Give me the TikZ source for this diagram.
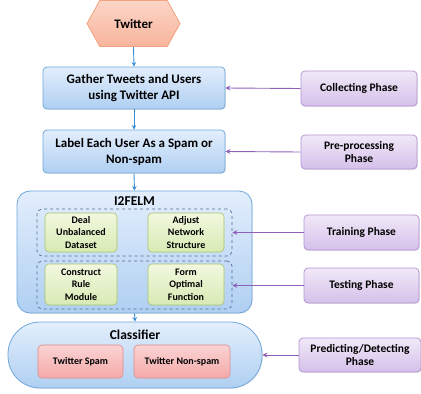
\documentclass[tikz,border=0pt]{standalone}
\usepackage{fontspec}
\setmainfont{Carlito}
\usetikzlibrary{shapes.symbols,shadows,arrows.meta}
\definecolor{bluebd}{HTML}{6FA8DC}
\definecolor{blueA}{HTML}{E3EEFC}
\definecolor{blueB}{HTML}{AFCFF2}
\definecolor{purpbd}{HTML}{B396D2}
\definecolor{purpA}{HTML}{F1E9F8}
\definecolor{purpB}{HTML}{D5C0EA}
\definecolor{purpar}{HTML}{9060B8}
\definecolor{bluear}{HTML}{3A8FD4}
\definecolor{hexbd}{HTML}{F2A27E}
\definecolor{hexA}{HTML}{FCD5C6}
\definecolor{hexB}{HTML}{F8B49C}
\definecolor{grnbd}{HTML}{A9C46C}
\definecolor{grnA}{HTML}{F1F8DF}
\definecolor{grnB}{HTML}{D8EAB4}
\definecolor{redbd}{HTML}{DE8C8C}
\definecolor{redA}{HTML}{FBD3D3}
\definecolor{redB}{HTML}{F4A9A9}
\definecolor{dashbd}{HTML}{4F6E93}
\begin{document}
\begin{tikzpicture}[x=1pt,y=-1pt,
  every node/.style={inner sep=1pt, align=center, font=\bfseries},
  shad/.style={drop shadow={opacity=0.2,shadow xshift=0.8pt,shadow yshift=-0.8pt}},
  bluebox/.style={draw=bluebd, line width=0.8pt, rounded corners=4pt, top color=blueA, bottom color=blueB, shad, font=\bfseries\fontsize{13}{16}\selectfont},
  phase/.style={draw=purpbd, line width=0.8pt, rounded corners=4pt, top color=purpA, bottom color=purpB, shad, minimum height=35pt, font=\bfseries\fontsize{11.5}{13.8}\selectfont},
  grnbox/.style={draw=grnbd, line width=0.6pt, rounded corners=4pt, top color=grnA, bottom color=grnB, font=\bfseries\fontsize{10}{12.4}\selectfont},
  redbox/.style={draw=redbd, line width=0.6pt, rounded corners=4pt, top color=redA, bottom color=redB, minimum height=33pt, font=\bfseries\fontsize{10}{12}\selectfont},
  ttl/.style={font=\bfseries\fontsize{13.5}{16}\selectfont},
  dashbox/.style={draw=dashbd, dashed, line width=0.7pt, rounded corners=5pt},
  barrow/.style={draw=bluear, line width=0.9pt, -{Stealth[length=4.5pt,width=4.5pt]}},
  parrow/.style={draw=purpar, line width=0.9pt, -{Stealth[length=5pt,width=5pt]}}
]
\useasboundingbox (0,0) rectangle (421,394);
% top
\node[signal, signal to=east and west, signal pointer angle=122, draw=hexbd, line width=0.8pt, top color=hexA, bottom color=hexB, minimum width=93pt, minimum height=46pt, inner sep=0pt, font=\bfseries\fontsize{13}{15}\selectfont] (tw) at (133.5,23.5) {Twitter};
\node[bluebox, minimum width=182pt, minimum height=42pt] (gather) at (134,88) {Gather Tweets and Users\\using Twitter API};
\node[phase, minimum width=116pt] (collect) at (359,88.5) {Collecting Phase};
\node[bluebox, minimum width=182pt, minimum height=43pt] (label) at (134,151.5) {Label Each User As a Spam or\\Non-spam};
\node[phase, minimum width=116pt, minimum height=34pt] (pre) at (359,152) {Pre-processing\\Phase};
% I2FELM
\node[draw=bluebd, line width=0.8pt, rounded corners=13pt, top color=blueA, bottom color=blueB, shad, minimum width=235pt, minimum height=122pt] (elm) at (134.5,252) {};
\node[ttl] (elmt) at (134.5,201.5) {I2FELM};
\node[dashbox, minimum width=195pt, minimum height=47pt] (d1) at (134.5,232.5) {};
\node[grnbox, minimum width=72pt, minimum height=39pt] (deal) at (81,232.5) {Deal\\Unbalanced\\Dataset};
\node[grnbox, minimum width=76pt, minimum height=39pt] (adjust) at (186,232.5) {Adjust\\Network\\Structure};
\node[phase, minimum width=115pt] (train) at (361.5,232.5) {Training Phase};
\node[dashbox, minimum width=195pt, minimum height=48pt] (d2) at (134.5,285) {};
\node[grnbox, minimum width=72pt, minimum height=41pt] (constr) at (81,284.5) {Construct\\Rule\\Module};
\node[grnbox, minimum width=76pt, minimum height=41pt] (form) at (186,284.5) {Form\\Optimal\\Function};
\node[phase, minimum width=115pt] (test) at (361.5,285.5) {Testing Phase};
% classifier
\node[draw=bluebd, line width=0.8pt, rounded corners=32pt, top color=blueA, bottom color=blueB, shad, minimum width=254pt, minimum height=66pt] (cls) at (135,355) {};
\node[ttl] (clst) at (135,335) {Classifier};
\node[redbox, minimum width=85pt] (spam) at (80.5,361.5) {Twitter Spam};
\node[redbox, minimum width=96pt] (nspam) at (182,361.5) {Twitter Non-spam};
\node[phase, minimum width=122pt, minimum height=34pt] (pred) at (360,355) {Predicting/Detecting\\Phase};
% arrows
\draw[barrow] (tw.south) -- (gather.north);
\draw[barrow] (gather.south) -- (label.north);
\draw[barrow] (label.south) -- (elm.north);
\draw[barrow] (elm.south) -- (cls.north);
\draw[parrow] (collect.west) -- (gather.east);
\draw[parrow] (pre.west) -- (label.east);
\draw[parrow] (train.west) -- (d1.east);
\draw[parrow] (test.west) -- (d2.east |- test.west);
\draw[parrow] (pred.west) -- (cls.east);
\end{tikzpicture}
\end{document}
